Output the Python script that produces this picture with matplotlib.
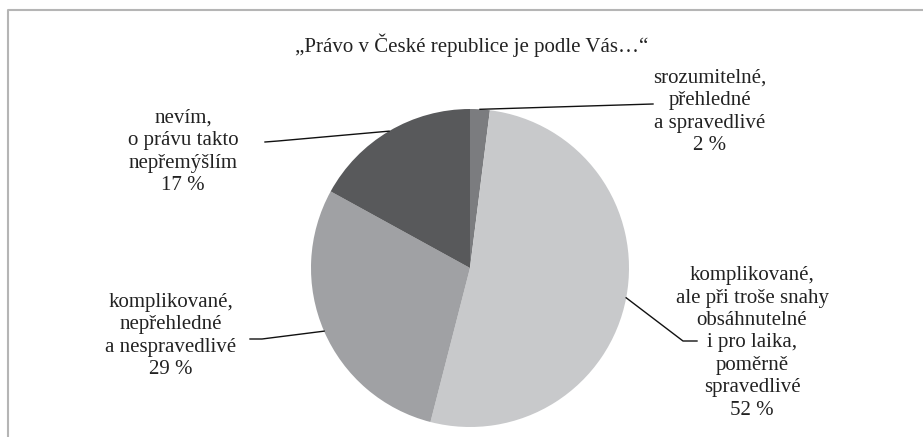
import matplotlib.pyplot as plt
import numpy as np

# Data
title = "„Právo v České republice je podle Vás…“"
labels = [
    "srozumitelné,\npřehledné\na spravedlivé",
    "komplikované,\nale při troše snahy\nobsáhnutelné\ni pro laika,\npoměrně\nspravedlivé",
    "komplikované,\nnepřehledné\na nespravedlivé",
    "nevím,\no právu takto\nnepřemýšlím",
]
shares = [2, 52, 29, 17]
colors = ["#7b7c7f", "#c8c9cb", "#a0a1a4", "#58595b"]

# layout in pixels (origin top-left)
W, H = 923, 437
center = (470, 268)
radius = 159
label_pos = [(710, 112), (752, 343), (171, 336), (183, 152)]
leader_tail = [
    [(653, 104)],
    [(683, 341), (697, 341)],
    [(262, 339), (250, 339)],
    [(278, 141), (265, 142)],
]

fig = plt.figure(figsize=(W / 100, H / 100), dpi=100)
ax = fig.add_axes([0, 0, 1, 1])

wedges, _ = ax.pie(shares, colors=colors, startangle=-90, counterclock=True,
                   center=center, radius=radius,
                   wedgeprops=dict(linewidth=0))
ax.set_xlim(0, W)
ax.set_ylim(H, 0)
ax.set_aspect("auto")
ax.axis("off")

font = dict(family="Liberation Serif", fontsize=15, color="#222222")

for w, lab, val, pos, tail in zip(wedges, labels, shares, label_pos, leader_tail):
    mid = np.deg2rad((w.theta1 + w.theta2) / 2)
    x0 = center[0] + radius * np.cos(mid)
    y0 = center[1] + radius * np.sin(mid)
    xs = [x0] + [p[0] for p in tail]
    ys = [y0] + [p[1] for p in tail]
    ax.plot(xs, ys, color="#111111", linewidth=1)
    ax.text(pos[0], pos[1], f"{lab}\n{val} %", ha="center", va="center",
            linespacing=1.24, **font)

ax.text(472, 45, title, ha="center", va="center", **font)

# chart frame (bottom edge is cut off in the original)
ax.plot([8, 8, 922], [H, 10, 10], color="#b5b5b5", linewidth=1.5, clip_on=False)

plt.savefig("out.png", dpi=100)
